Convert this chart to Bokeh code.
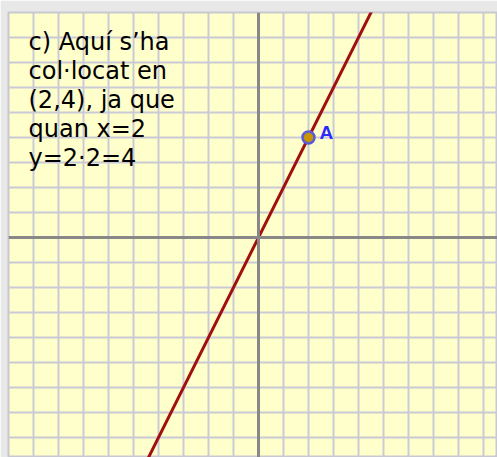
from bokeh.plotting import figure
from bokeh.models import Label, Span, ColumnDataSource, FixedTicker
from bokeh.embed import file_html
from bokeh.resources import INLINE

# Data
line_x = [-5, 5]
line_y = [-10, 10]          # y = 2x
point_name = ["A"]
point_x = [2]
point_y = [4]
grid_ticks = list(range(-12, 13))
note_lines = ["c) Aquí s’ha", "col·locat en", "(2,4), ja que", "quan x=2", "y=2·2=4"]

W, H = 497, 457
p = figure(width=W, height=H, output_backend="svg", toolbar_location=None,
           x_range=(-10, 9.56), y_range=(-8.8, 9.0),
           min_border_left=8, min_border_right=0, min_border_top=12, min_border_bottom=0,
           background_fill_color="#ffffcc", border_fill_color="#e8e8e8")
p.xaxis.visible = False
p.yaxis.visible = False
p.outline_line_color = "#c8c8d0"
p.outline_line_width = 2
p.xgrid.ticker = FixedTicker(ticks=grid_ticks)
p.ygrid.ticker = FixedTicker(ticks=grid_ticks)
for g in (p.xgrid, p.ygrid):
    g.grid_line_color = "#cacad6"
    g.grid_line_width = 2
    g.grid_line_alpha = 1.0

p.add_layout(Span(location=0, dimension="height", line_color="#888888", line_width=3))
p.add_layout(Span(location=0, dimension="width", line_color="#888888", line_width=3))

p.line(line_x, line_y, line_color="#a01010", line_width=3)

src = ColumnDataSource(dict(x=point_x, y=point_y, name=point_name))
p.scatter("x", "y", source=src, size=12, fill_color="#c89400", line_color="#5a5ad8", line_width=2.5)
p.text("x", "y", text="name", source=src, x_offset=11, y_offset=-5,
       text_color="#2a2aff", text_font_style="bold", text_font_size="19px",
       text_baseline="alphabetic")

for i, t in enumerate(note_lines):
    p.add_layout(Label(x=-9.2, y=7.84 - i * 29 / 25, text=t, text_font="DejaVu Sans",
                       text_font_size="24px", text_color="#000000",
                       text_baseline="alphabetic"))

open("out.html", "w").write(file_html(p, INLINE))
